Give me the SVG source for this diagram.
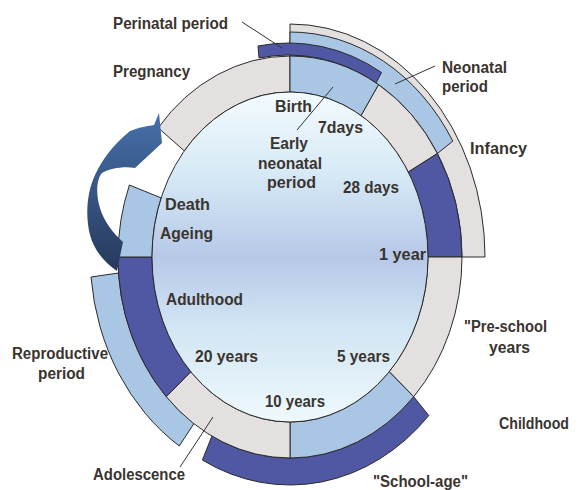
<svg xmlns="http://www.w3.org/2000/svg" width="579" height="490" viewBox="0 0 579 490">
<defs>
<linearGradient id="core" x1="0" y1="0" x2="0" y2="1">
<stop offset="0" stop-color="#f3fbfe"/>
<stop offset="0.25" stop-color="#d6e9f5"/>
<stop offset="0.5" stop-color="#b6c8e7"/>
<stop offset="0.72" stop-color="#d3e6f4"/>
<stop offset="1" stop-color="#eef9fc"/>
</linearGradient>
<linearGradient id="arr" x1="0" y1="0" x2="0" y2="1">
<stop offset="0" stop-color="#4670aa"/>
<stop offset="1" stop-color="#27395c"/>
</linearGradient>
<style>
.seg{stroke:#2a2a2a;stroke-width:1;stroke-linejoin:round}
.gray{fill:#e3e0df}
.lb{fill:#a9c6e4}
.db{fill:#5058a3}
.lead{stroke:#333;stroke-width:1;fill:none}
text{font-family:"Liberation Sans",Arial,sans-serif;font-weight:bold;font-size:16px;fill:#3a342f}
</style>
</defs>
<rect width="579" height="490" fill="#ffffff"/>

<g id="outer-bands">
<g id="infancy-band"><path class="seg gray" d="M290,24 A195,233 0 0 1 485,257 L462,257 A172,201 0 0 0 290,56 Z"/></g>
<g id="neonatal-band"><path class="seg lb" d="M290,32 A190,225 0 0 1 452.8,141.1 L437.4,153.5 A172,201 0 0 0 290,56 Z"/></g>
<g id="perinatal-band"><path class="seg db" d="M258,46 A183,213 0 0 1 381.5,72.5 L376,82.9 A172,201 0 0 0 259,58 Z"/></g>
<g id="school-age-band"><path class="seg db" d="M413.7,396.7 L428.8,415.5 A193,228 0 0 1 202.4,460.1 L211.9,436.1 A172,201 0 0 0 413.7,396.7 Z"/></g>
<g id="reproductive-band"><path class="seg lb" d="M193.9,423.6 L179.3,446 A198,228 0 0 1 91,277 L118.5,273 A172,201 0 0 0 193.9,423.6 Z"/></g>
</g>

<g id="ring">
<g id="pregnancy"><path class="seg gray" d="M158.2,127.8 A172,201 0 0 1 290,56 L290,92 A138,165 0 0 0 184.3,150.9 Z"/></g>
<g id="early-neonatal"><path class="seg lb" d="M290,56 A172,201 0 0 1 378.6,84.7 L361.1,115.6 A138,165 0 0 0 290,92 Z"/></g>
<g id="late-neonatal"><path class="seg gray" d="M378.6,84.7 A172,201 0 0 1 437.4,153.5 L408.3,172 A138,165 0 0 0 361.1,115.6 Z"/></g>
<g id="infancy"><path class="seg db" d="M437.4,153.5 A172,201 0 0 1 462,257 L428,257 A138,165 0 0 0 408.3,172 Z"/></g>
<g id="pre-school"><path class="seg gray" d="M462,257 A172,201 0 0 1 413.7,396.7 L389.2,371.7 A138,165 0 0 0 428,257 Z"/></g>
<g id="school-age"><path class="seg lb" d="M413.7,396.7 A172,201 0 0 1 290,458 L290,422 A138,165 0 0 0 389.2,371.7 Z"/></g>
<g id="adolescence"><path class="seg gray" d="M290,458 A172,201 0 0 1 166.3,396.7 L190.8,371.7 A138,165 0 0 0 290,422 Z"/></g>
<g id="adulthood"><path class="seg db" d="M166.3,396.7 A172,201 0 0 1 118,257 L152,257 A138,165 0 0 0 190.8,371.7 Z"/></g>
<g id="ageing"><path class="seg lb" d="M118,257 A172,201 0 0 1 129.4,185 L161.1,197.9 A138,165 0 0 0 152,257 Z"/></g>
</g>

<g id="core-circle"><ellipse cx="290" cy="257" rx="138" ry="165" fill="url(#core)" stroke="#2a2a2a" stroke-width="1"/></g>

<g id="cycle-arrow"><path fill="url(#arr)" d="M159,113 L162,143 L135,168 C125,166 110,168 102,173 C96,180 96,195 100,208 C104,222 114,234 123,242 L117,271 C104,262 94,250 90,235 C85,215 87,192 95,175 C102,160 112,146 130,131 C140,127 148,126 154,125 Z"/></g>

<g id="connectors">
<line class="lead" x1="242" y1="22" x2="282" y2="48"/>
<line class="lead" x1="333" y1="87" x2="297" y2="130"/>
<line class="lead" x1="435" y1="66" x2="395" y2="84"/>
<line class="lead" x1="180" y1="467" x2="213" y2="417"/>
</g>

<g id="labels">
<text x="113" y="29" textLength="115" lengthAdjust="spacingAndGlyphs">Perinatal period</text>
<text x="113" y="77" textLength="77" lengthAdjust="spacingAndGlyphs">Pregnancy</text>
<text x="275" y="112" textLength="37" lengthAdjust="spacingAndGlyphs">Birth</text>
<text x="318" y="133" textLength="45" lengthAdjust="spacingAndGlyphs">7days</text>
<text x="270" y="149" textLength="38" lengthAdjust="spacingAndGlyphs">Early</text>
<text x="258" y="169" textLength="64" lengthAdjust="spacingAndGlyphs">neonatal</text>
<text x="267" y="188" textLength="49" lengthAdjust="spacingAndGlyphs">period</text>
<text x="343" y="193" textLength="56" lengthAdjust="spacingAndGlyphs">28 days</text>
<text x="165" y="210" textLength="45" lengthAdjust="spacingAndGlyphs">Death</text>
<text x="160" y="239" textLength="53" lengthAdjust="spacingAndGlyphs">Ageing</text>
<text x="379" y="260" textLength="47" lengthAdjust="spacingAndGlyphs">1 year</text>
<text x="166" y="305" textLength="77" lengthAdjust="spacingAndGlyphs">Adulthood</text>
<text x="195" y="362" textLength="63" lengthAdjust="spacingAndGlyphs">20 years</text>
<text x="337" y="362" textLength="53" lengthAdjust="spacingAndGlyphs">5 years</text>
<text x="265" y="407" textLength="60" lengthAdjust="spacingAndGlyphs">10 years</text>
<text x="442" y="73" textLength="65" lengthAdjust="spacingAndGlyphs">Neonatal</text>
<text x="442" y="92" textLength="46" lengthAdjust="spacingAndGlyphs">period</text>
<text x="470" y="154" textLength="57" lengthAdjust="spacingAndGlyphs">Infancy</text>
<text x="464" y="332" textLength="83" lengthAdjust="spacingAndGlyphs">"Pre-school</text>
<text x="489" y="353" textLength="41" lengthAdjust="spacingAndGlyphs">years</text>
<text x="499" y="429" font-size="14.5" textLength="70" lengthAdjust="spacingAndGlyphs">Childhood</text>
<text x="373" y="487" textLength="95" lengthAdjust="spacingAndGlyphs">"School-age"</text>
<text x="12" y="359" textLength="96" lengthAdjust="spacingAndGlyphs">Reproductive</text>
<text x="38" y="379" textLength="47" lengthAdjust="spacingAndGlyphs">period</text>
<text x="93" y="480" textLength="92" lengthAdjust="spacingAndGlyphs">Adolescence</text>
</g>
</svg>
